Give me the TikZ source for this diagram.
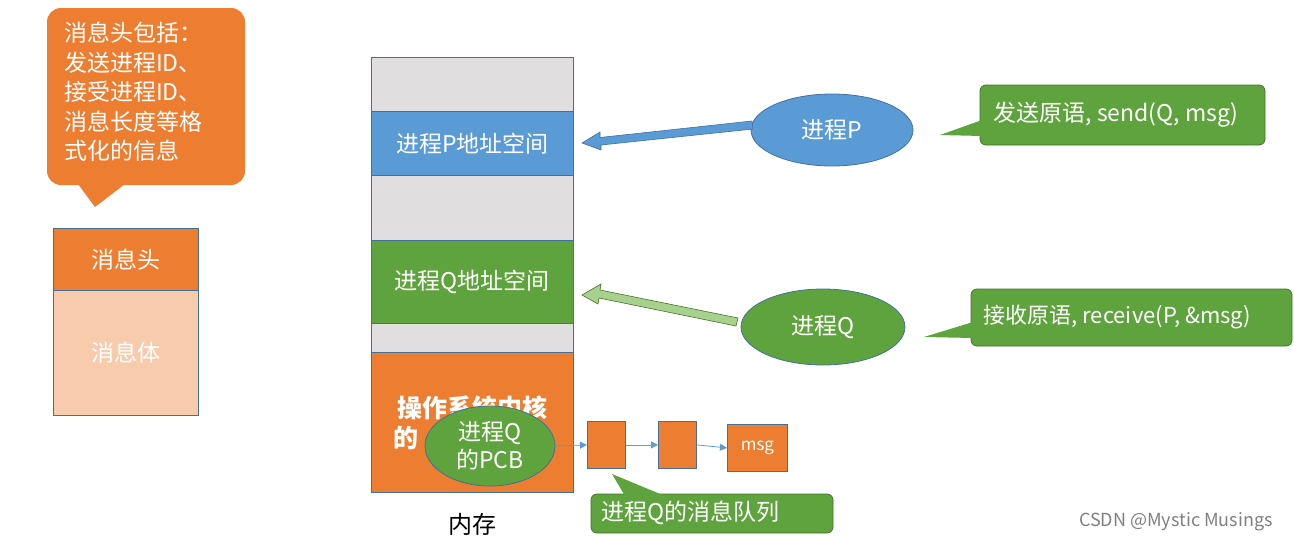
\documentclass[tikz,border=0pt]{standalone}
\usepackage{fontspec}
\setmainfont{Noto Sans CJK SC}
\usetikzlibrary{shapes.geometric,arrows.meta}
\definecolor{org}{HTML}{ED7D31}
\definecolor{lorg}{HTML}{F8CBAD}
\definecolor{blu}{HTML}{5B9BD5}
\definecolor{grn}{HTML}{5FA33E}
\definecolor{lgrn}{HTML}{A9D18E}
\definecolor{gry}{HTML}{E0DEDE}
\definecolor{edg}{HTML}{41719C}
\begin{document}
\begin{tikzpicture}[x=1pt,y=-1pt,
  seg/.style={draw=edg,line width=0.8pt},
  wt/.style={text=white,font=\fontsize{23}{29}\selectfont},
  call/.style={draw=grn!70!black,fill=grn,line width=0.8pt,rounded corners=6pt},
  ell/.style={ellipse,draw=edg,line width=0.8pt,inner sep=0pt},
  qa/.style={-{Triangle[length=7pt,width=7pt]},blu,line width=0.8pt}]
\useasboundingbox (0,0) rectangle (1294,541);
% top-left callout
\fill[org,rounded corners=14pt] (47,8) -- (245,8) -- (245,185) -- (120,185) -- (47,185) -- cycle;
\fill[org] (78,184) -- (95,207) -- (125,184) -- cycle;
\node[wt,anchor=north west,align=left,inner sep=0pt,font=\fontsize{23}{29.5}\selectfont] (hdr) at (64,22) {消息头包括：\\发送进程ID、\\接受进程ID、\\消息长度等格\\式化的信息};
% message boxes
\node[seg,fill=org,minimum width=145,minimum height=62,anchor=north west,wt] (mh) at (53,228) {消息头};
\node[seg,fill=lorg,minimum width=145,minimum height=125,anchor=north west,wt] (mb) at (53,290) {消息体};
% memory column
\node[seg,fill=gry,minimum width=202,minimum height=54,anchor=north west] (g1) at (371,57) {};
\node[seg,fill=blu,minimum width=202,minimum height=64,anchor=north west,wt] (pa) at (371,111) {进程P地址空间};
\node[seg,fill=gry,minimum width=202,minimum height=65,anchor=north west] (g2) at (371,175) {};
\node[seg,fill=grn,minimum width=202,minimum height=83,anchor=north west,wt] (qa) at (371,240) {进程Q地址空间};
\node[seg,fill=gry,minimum width=202,minimum height=29,anchor=north west] (g3) at (371,323) {};
\node[seg,fill=org,minimum width=202,minimum height=140,anchor=north west] (k) at (371,352) {};
\node[wt,font=\fontsize{25}{29}\selectfont\bfseries] (kt1) at (472,408) {操作系统内核};
\node[wt,font=\fontsize{25}{29}\selectfont\bfseries,anchor=west,inner sep=0pt] (kt2) at (393,438) {的};
\node[font=\fontsize{24}{28}\selectfont] (mem) at (472,524) {内存};
% process P
\node[ell,fill=blu,minimum width=162,minimum height=72,wt] (P) at (832,130) {进程P};
\draw[draw=edg,fill=blu,line width=0.6pt] (752,121) -- (600,137.5) -- (600,132) -- (582,143) -- (601,150) -- (601,145) -- (753,129) -- cycle;
% process Q
\node[ell,fill=grn,minimum width=164,minimum height=76,wt] (Q) at (823,327) {进程Q};
\draw[draw=grn!70!black,fill=lgrn,line width=0.6pt] (738,318) -- (600,290) -- (601,284) -- (582,295) -- (598,304) -- (599,298) -- (736,326) -- cycle;
% callouts right
\fill[call] (980,85) rectangle (1265,145);
\fill[grn] (982,120) -- (940,135) -- (982,136) -- cycle;
\node[wt,anchor=west] (s1) at (990,115) {发送原语, send(Q, msg)};
\fill[call] (971,289) rectangle (1292,346);
\fill[grn] (973,322) -- (924,337) -- (973,338) -- cycle;
\node[wt,anchor=west,font=\fontsize{22}{26}\selectfont] (s2) at (980,317) {接收原语, receive(P, \&msg)};
% PCB
\node[ell,fill=grn,minimum width=130,minimum height=80,wt,align=center,font=\fontsize{23}{28}\selectfont] (pcb) at (490,446) {进程Q\\的PCB};
% queue
\node[seg,fill=org,minimum width=38,minimum height=47,anchor=north west] (q1) at (587,421) {};
\node[seg,fill=org,minimum width=38,minimum height=47,anchor=north west] (q2) at (658,421) {};
\node[seg,fill=org,minimum width=60,minimum height=47,anchor=north west,text=white,font=\fontsize{17}{20}\selectfont] (q3) at (727,424) {msg};
\draw[qa] (pcb.east) -- (q1.west);
\draw[qa] (q1.east) -- (q2.west);
\draw[qa] (q2.east) -- (q3.west);
% queue callout
\fill[call] (591,494) rectangle (833,533);
\fill[grn] (612,474) -- (625,496) -- (665,496) -- cycle;
\node[wt,anchor=west] (s3) at (598,513) {进程Q的消息队列};
\node[text=gray,font=\fontsize{18}{20}\selectfont] (wm) at (1176,522) {CSDN @Mystic Musings};
\end{tikzpicture}
\end{document}
